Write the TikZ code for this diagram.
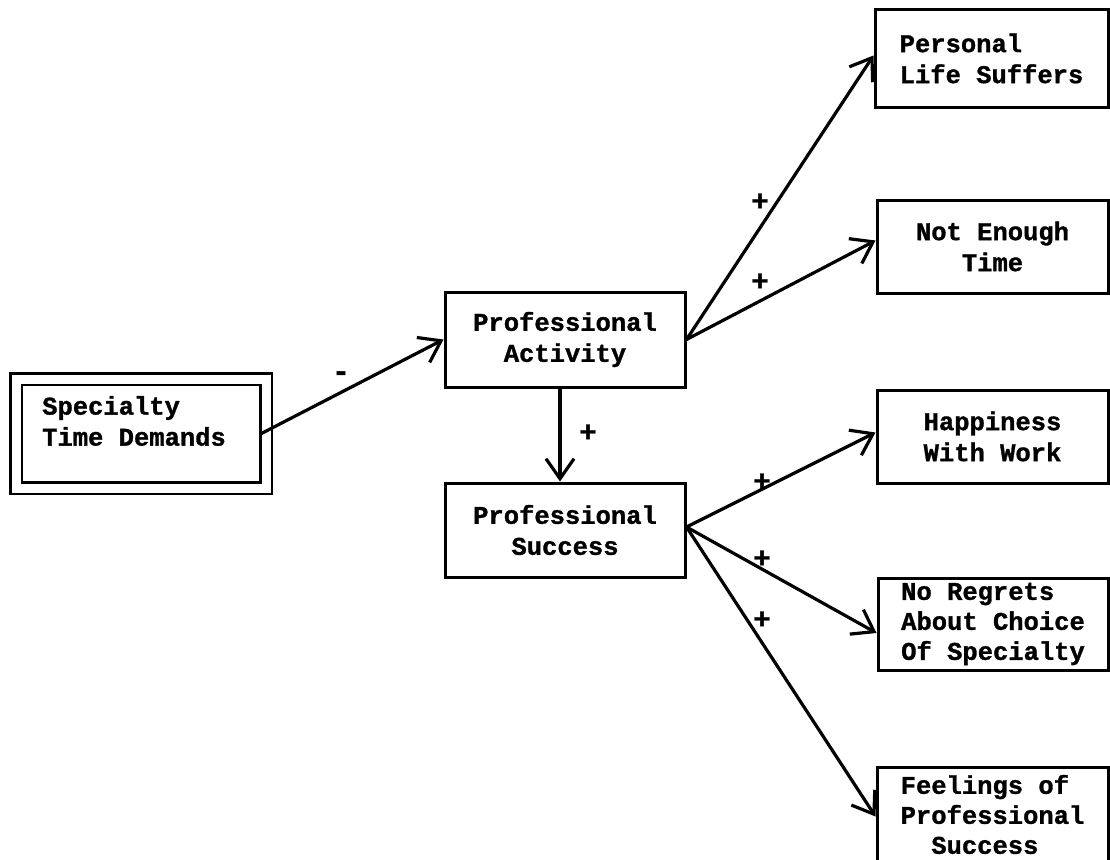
\documentclass[tikz,border=0pt]{standalone}
\usepackage{fontspec}
\newfontfamily\tw{Liberation Mono}[BoldFeatures={FakeBold=1.2}]
\usetikzlibrary{arrows.meta}
\begin{document}
\begin{tikzpicture}[x=1pt,y=-1pt,
  txt/.style={font=\tw\bfseries\fontsize{25.5}{31}\selectfont, inner sep=0pt},
  box/.style={txt, draw, line width=3pt, align=center},
  link/.style={line width=3.2pt, -{Straight Barb[length=20pt,width=28pt]}},
  sign/.style={font=\tw\bfseries\fontsize{29}{29}\selectfont, inner sep=0pt}]
\useasboundingbox (0,0) rectangle (1110,859);
\clip (0,0) rectangle (1110,859);

% source: double-ruled box
\node[draw, line width=2.8pt, double, double distance=9pt, inner sep=0pt,
      minimum width=250pt, minimum height=109pt] (sp) at (141,433.5) {};
\node[txt, align=left, anchor=west] (sptext) at (42,421) {Specialty\\Time Demands};

% middle column
\node[box, minimum width=240pt, minimum height=95pt] (pa) at (565,339.5) {Professional\\Activity};
\node[box, minimum width=240pt, minimum height=94pt] (ps) at (565,530) {Professional\\Success};

% outcomes (run past the right edge)
\node[box, align=left, minimum width=233pt, minimum height=97pt] (pls) at (991.5,58.5) {Personal\\Life Suffers};
\node[box, minimum width=231pt, minimum height=93pt] (net) at (992.5,246.5) {Not Enough\\Time};
\node[box, minimum width=231pt, minimum height=93pt] (hww) at (992.5,436.5) {Happiness\\With Work};
\node[box, align=left, minimum width=230pt, minimum height=92pt,
      font=\tw\bfseries\fontsize{25.5}{30}\selectfont] (nrc) at (993,624)
      {No Regrets\\About Choice\\Of Specialty};
\node[box, align=left, minimum width=231pt, minimum height=95pt,
      font=\tw\bfseries\fontsize{25.5}{30}\selectfont] (fps) at (992.5,814.5)
      {Feelings of\\Professional\\\hphantom{xx}Success};

% connectors
\draw[link] ([xshift=-6pt]sp.east) -- (pa.west);
\draw[link] ([xshift=-5pt]pa.south) -- ([xshift=-5pt]ps.north);
\draw[link] (pa.east) -- ([yshift=3pt]pls.west);
\draw[link] (pa.east) -- ([yshift=6pt]net.west);
\draw[link] ([yshift=3pt]ps.east) -- ([yshift=4pt]hww.west);
\draw[link] ([yshift=3pt]ps.east) -- ([yshift=-9pt]nrc.west);
\draw[link] ([yshift=3pt]ps.east) -- ([yshift=-2pt]fps.west);

% signs
\node[sign] (s1) at (341,376) {-};
\node[sign] (s2) at (588,433) {+};
\node[sign] (s3) at (760,202) {+};
\node[sign] (s4) at (760,282) {+};
\node[sign] (s5) at (762,482) {+};
\node[sign] (s6) at (762,559) {+};
\node[sign] (s7) at (762,620) {+};
\end{tikzpicture}
\end{document}
